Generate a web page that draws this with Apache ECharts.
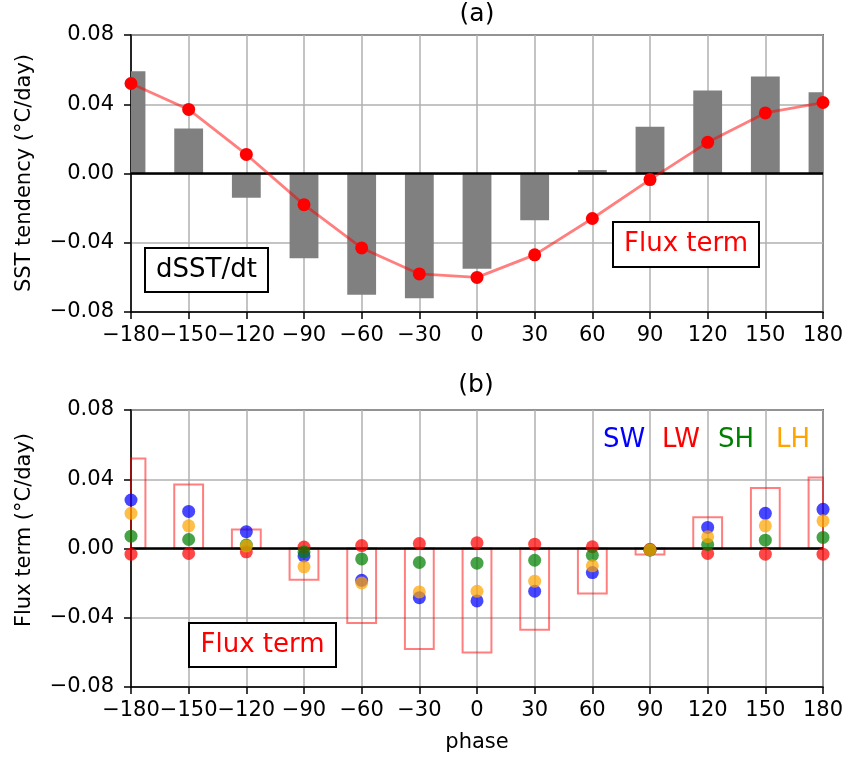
<!DOCTYPE html>
<html><head><meta charset="utf-8">
<script src="https://cdn.jsdelivr.net/npm/echarts@6/dist/echarts.min.js"></script>
<style>html,body{margin:0;padding:0;background:#fff}#c{width:851px;height:762px}</style>
</head><body><div id="c"></div>
<script>
// ---- data ----
const phase    = [-180, -150, -120, -90, -60, -30, 0, 30, 60, 90, 120, 150, 180];
const dsstdt   = [0.059, 0.026, -0.014, -0.049, -0.070, -0.072, -0.055, -0.027, 0.002, 0.027, 0.048, 0.056, 0.047];
const fluxTerm = [0.052, 0.037, 0.011, -0.018, -0.043, -0.058, -0.060, -0.047, -0.026, -0.0035, 0.018, 0.035, 0.041];
const sw = [0.0280, 0.0214, 0.0097, -0.0043, -0.0184, -0.0284, -0.0303, -0.0247, -0.0139, -0.0008, 0.0122, 0.0203, 0.0226];
const lw = [-0.0033, -0.0029, -0.0019, 0.0008, 0.0017, 0.0029, 0.0033, 0.0025, 0.0010, -0.0005, -0.0029, -0.0033, -0.0033];
const sh = [0.0071, 0.0052, 0.0020, -0.0020, -0.0060, -0.0081, -0.0085, -0.0068, -0.0039, -0.0008, 0.0023, 0.0048, 0.0064];
const lh = [0.0203, 0.0131, 0.0015, -0.0106, -0.0199, -0.0251, -0.0247, -0.0189, -0.0100, -0.0008, 0.0068, 0.0131, 0.0160];
const xTickValues = [-180, -150, -120, -90, -60, -30, 0, 30, 60, 90, 120, 150, 180];
const xTickLabels = ['\u2212180', '\u2212150', '\u2212120', '\u221290', '\u221260', '\u221230', '0', '30', '60', '90', '120', '150', '180'];
const yTickValues = [-0.08, -0.04, 0, 0.04, 0.08];
const yTickLabels = ['\u22120.08', '\u22120.04', '0.00', '0.04', '0.08'];
const seriesNames = ['SW', 'LW', 'SH', 'LH'];

// ---- rendering ----
const FONT = '"DejaVu Sans", "Liberation Sans", sans-serif';
const pair = (xs, ys) => xs.map((x, i) => [x, ys[i]]);
const lookup = (vals, labels) => v => {
  for (let i = 0; i < vals.length; i++) if (Math.abs(v - vals[i]) < 1e-9) return labels[i];
  return '';
};
const HALF_W = 7.5; // half bar width in phase units

function boxRender(fillStyle) {
  return function (params, api) {
    const x = api.value(0), y = api.value(1);
    const p0 = api.coord([x - HALF_W, 0]);
    const p1 = api.coord([x + HALF_W, y]);
    const rect = {
      x: Math.min(p0[0], p1[0]), y: Math.min(p0[1], p1[1]),
      width: Math.abs(p1[0] - p0[0]), height: Math.abs(p1[1] - p0[1])
    };
    const cs = params.coordSys;
    const clipped = echarts.graphic.clipRectByRect(rect, {x: cs.x, y: cs.y, width: cs.width, height: cs.height});
    if (!clipped) return null;
    return {type: 'rect', shape: clipped, style: fillStyle};
  };
}

function xAxisCfg(gridIndex) {
  return {
    type: 'value', gridIndex, min: -180, max: 180, interval: 30,
    axisLine: {show: true, onZero: false, lineStyle: {color: '#000', width: 1.5}},
    axisTick: {show: true, inside: false, length: 7, lineStyle: {color: '#000', width: 1.5}},
    axisLabel: {show: true, margin: 13, color: '#000', fontSize: 21, fontFamily: FONT,
      formatter: lookup(xTickValues, xTickLabels), showMinLabel: true, showMaxLabel: true, hideOverlap: false},
    splitLine: {show: true, lineStyle: {color: '#b0b0b0', width: 1.5}}
  };
}
function yAxisCfg(gridIndex) {
  return {
    type: 'value', gridIndex, min: -0.08, max: 0.08, interval: 0.04,
    axisLine: {show: true, onZero: false, lineStyle: {color: '#000', width: 1.5}},
    axisTick: {show: true, inside: false, length: 7, lineStyle: {color: '#000', width: 1.5}},
    axisLabel: {show: true, margin: 17, color: '#000', fontSize: 21, fontFamily: FONT,
      formatter: lookup(yTickValues, yTickLabels), showMinLabel: true, showMaxLabel: true},
    splitLine: {show: true, lineStyle: {color: '#b0b0b0', width: 1.5}}
  };
}

const zeroLine = {
  silent: true, symbol: 'none', animation: false, z: 5,
  label: {show: false},
  lineStyle: {color: '#000', width: 2.5, type: 'solid'},
  data: [{yAxis: 0}]
};

const dotColors = ['#0000ff', '#ff0000', '#008000', '#ffa500'];
const dotData = [sw, lw, sh, lh];

function textBox(x, y, w, h, text, color) {
  return [
    {type: 'rect', z: 100, shape: {x, y, width: w, height: h},
      style: {fill: '#fff', stroke: '#000', lineWidth: 2}},
    {type: 'text', z: 101, x: x + w / 2, y: y + h / 2,
      style: {text, fill: color, fontSize: 26, fontFamily: FONT, align: 'center', verticalAlign: 'middle'}}
  ];
}
function label(x, y, text, color, size, rot) {
  return {type: 'text', z: 101, x, y, rotation: rot || 0,
    style: {text, fill: color, fontSize: size, fontFamily: FONT, align: 'center', verticalAlign: 'middle'}};
}

const option = {
  animation: false,
  backgroundColor: '#fff',
  textStyle: {fontFamily: FONT},
  grid: [
    {left: 131, top: 35, width: 692, height: 277, show: true, borderColor: '#000', borderWidth: 1.5, backgroundColor: 'transparent'},
    {left: 131, top: 410, width: 692, height: 277, show: true, borderColor: '#000', borderWidth: 1.5, backgroundColor: 'transparent'}
  ],
  xAxis: [xAxisCfg(0), xAxisCfg(1)],
  yAxis: [yAxisCfg(0), yAxisCfg(1)],
  series: [
    {
      name: 'dSST/dt', type: 'custom', xAxisIndex: 0, yAxisIndex: 0, z: 2,
      renderItem: boxRender({fill: '#808080'}),
      encode: {x: 0, y: 1},
      data: pair(phase, dsstdt),
      markLine: zeroLine
    },
    {
      name: 'Flux term', type: 'line', xAxisIndex: 0, yAxisIndex: 0, z: 10,
      data: pair(phase, fluxTerm),
      symbol: 'circle', symbolSize: 13, showAllSymbol: true,
      itemStyle: {color: '#ff0000', opacity: 1},
      lineStyle: {color: 'rgba(255,0,0,0.5)', width: 2.8}
    },
    {
      name: 'Flux term box', type: 'custom', xAxisIndex: 1, yAxisIndex: 1, z: 2,
      renderItem: boxRender({fill: 'none', stroke: 'rgba(255,0,0,0.5)', lineWidth: 2}),
      encode: {x: 0, y: 1},
      data: pair(phase, fluxTerm),
      markLine: zeroLine
    }
  ].concat(dotData.map((d, k) => ({
    name: seriesNames[k], type: 'scatter', xAxisIndex: 1, yAxisIndex: 1, z: 10 + k,
    symbol: 'circle', symbolSize: 13,
    itemStyle: {color: dotColors[k], opacity: 0.72},
    data: pair(phase, d)
  }))),
  graphic: [
    label(477, 14, '(a)', '#000', 25),
    label(476, 385, '(b)', '#000', 25),
    label(25, 173, 'SST tendency (°C/day)', '#000', 21, Math.PI / 2),
    label(25, 530, 'Flux term (°C/day)', '#000', 21, Math.PI / 2),
    label(477, 743, 'phase', '#000', 21),
    label(624, 440, 'SW', '#0000ff', 26),
    label(681, 440, 'LW', '#ff0000', 26),
    label(736, 440, 'SH', '#008000', 26),
    label(793, 440, 'LH', '#ffa500', 26)
  ].concat(
    textBox(145, 248, 123, 44, 'dSST/dt', '#000'),
    textBox(613, 222, 146, 45, 'Flux term', '#ff0000'),
    textBox(189, 623, 147, 44, 'Flux term', '#ff0000')
  )
};

const chart = echarts.init(document.getElementById('c'), null, {renderer: 'canvas'});
chart.setOption(option);
</script>
</body></html>
